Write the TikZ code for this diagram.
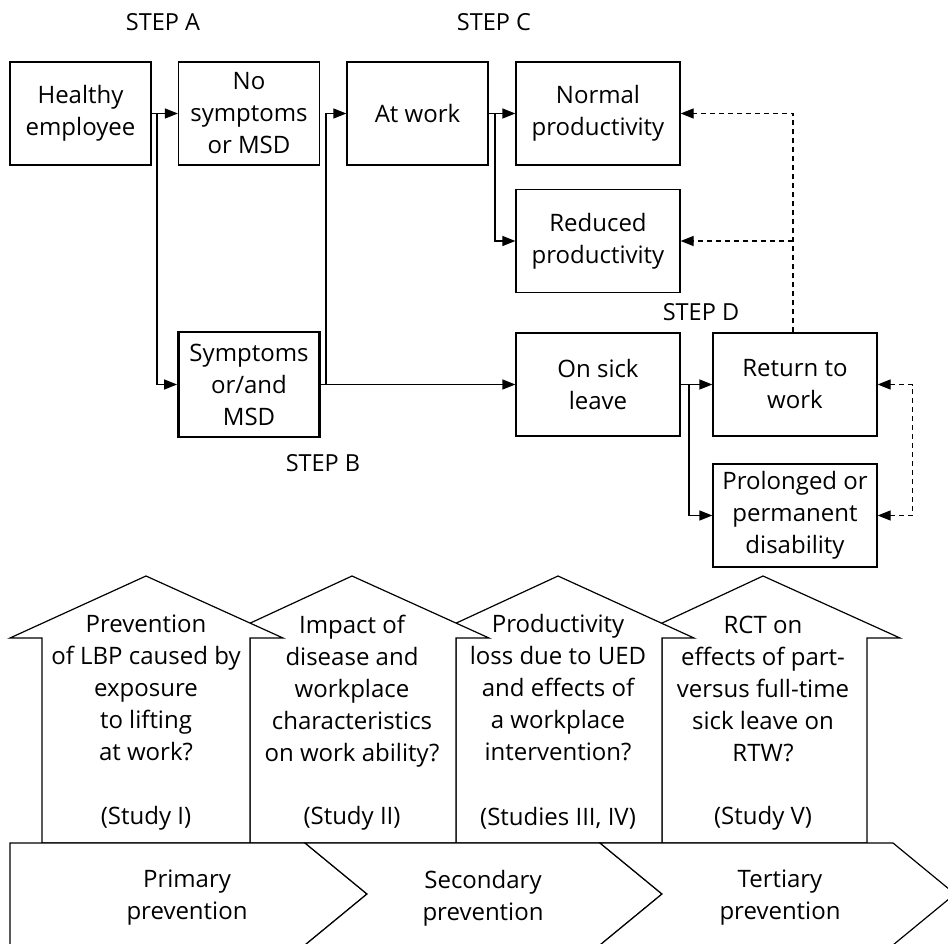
\documentclass[tikz,border=0pt]{standalone}
\usepackage{fontspec}
\setmainfont{Open Sans}
\usetikzlibrary{arrows.meta,calc}
\newcommand\bfnt{\fontsize{24}{32}\selectfont}
\newcommand\sfnt{\fontsize{23.5}{28}\selectfont}
\begin{document}
\begin{tikzpicture}[x=1pt,y=-1pt,
  every node/.style={inner sep=0pt},
  box/.style={draw, line width=1.2pt, minimum width=141pt, minimum height=103pt, align=center, font=\bfnt},
  wide/.style={box, minimum width=164pt},
  thickbox/.style={box, line width=2.8pt},
  conn/.style={line width=1.2pt, -{Triangle[length=13pt,width=10pt]}},
  dconn/.style={conn, dash pattern=on 5pt off 4pt},
  steplabel/.style={font=\sfnt},
  shapeline/.style={draw, line width=1.2pt, fill=white, line join=miter},
  txt/.style={align=center, font=\bfnt}
]
\fill[white] (0,0) rectangle (948,944);
\clip (0,0) rectangle (948,944);

% step labels
\node[steplabel] (stepA) at (163,22) {STEP A};
\node[steplabel] (stepC) at (494,22) {STEP C};
\node[steplabel] (stepD) at (701,312.5) {STEP D};
\node[steplabel] (stepB) at (323,463) {STEP B};

% boxes
\node[box] (healthy) at (80.5,113.5) {Healthy\\employee};
\node[box] (nosym) at (249,113.5) {No\\symptoms\\or MSD};
\node[box] (atwork) at (417.5,113.5) {At work};
\node[wide] (normal) at (598,113.5) {Normal\\productivity};
\node[wide] (reduced) at (598,241) {Reduced\\productivity};
\node[thickbox, minimum height=105pt] (symptoms) at (249,384.5) {Symptoms\\or/and\\MSD};
\node[wide] (sick) at (598,384.5) {On sick\\leave};
\node[wide] (rtw) at (795,384.5) {Return to\\work};
\node[wide] (prolonged) at (795,515.5) {Prolonged or\\permanent\\disability};

% connectors
\coordinate (b1) at (157,113.5);
\coordinate (b2) at (326,384.5);
\coordinate (b3) at (495,113.5);
\coordinate (b4) at (689,384.5);
\draw[conn] (healthy.east) -- (nosym.west);
\draw[conn] (b1) |- (symptoms.west);
\draw[conn] (symptoms.east) -- (sick.west);
\draw[conn] (b2) |- (atwork.west);
\draw[conn] (atwork.east) -- (normal.west);
\draw[conn] (b3) |- (reduced.west);
\draw[conn] (sick.east) -- (rtw.west);
\draw[conn] (b4) |- (prolonged.west);
\coordinate (up) at ([xshift=-2pt]rtw.north);
\draw[dconn] (up) |- (normal.east);
\draw[dconn] (up |- reduced.east) -- (reduced.east);
\draw[dconn, {Triangle[length=13pt,width=10pt]}-{Triangle[length=13pt,width=10pt]}] (rtw.east) -- ++(35,0) |- (prolonged.east);

% houses (back to front)
\path[shapeline] (867,843) -- (867,638) -- (900,638) -- (763,576) -- (630,638) -- (662,638) -- (662,843) -- cycle;
\path[shapeline] (662,843) -- (662,638) -- (694,638) -- (558,576) -- (424,638) -- (456,638) -- (456,843) -- cycle;
\path[shapeline] (456,843) -- (456,638) -- (489,638) -- (352,576) -- (218,638) -- (250,638) -- (250,843) -- cycle;
\path[shapeline] (250,843) -- (250,638) -- (283,638) -- (146,576) -- (10,638) -- (42,638) -- (42,843) -- cycle;

\node[txt] (q1) at (146,688) {Prevention\\of LBP caused by\\exposure\\to lifting\\at work?};
\node[txt] (q2) at (352,691) {Impact of\\disease and\\workplace\\characteristics\\on work ability?};
\node[txt] (q3) at (558,688) {Productivity\\loss due to UED\\and effects of\\a workplace\\intervention?};
\node[txt] (q4) at (763,688.5) {RCT on\\effects of part-\\versus full-time\\sick leave on\\RTW?};
\node[txt] (s1) at (146,818) {(Study I)};
\node[txt] (s2) at (352,818) {(Study II)};
\node[txt] (s3) at (558,818) {(Studies III, IV)};
\node[txt] (s4) at (763,818) {(Study V)};

% chevrons
\path[shapeline] (10,843) -- (305,843) -- (367,894) -- (305,945) -- (10,945) -- cycle;
\path[shapeline] (305,843) -- (600,843) -- (662,894) -- (600,945) -- (305,945) -- (367,894) -- cycle;
\path[shapeline] (600,843) -- (893,843) -- (955,894) -- (893,945) -- (600,945) -- (662,894) -- cycle;
\node[txt] (p1) at (187,898) {Primary\\prevention};
\node[txt] (p2) at (483,898) {Secondary\\prevention};
\node[txt] (p3) at (780,898) {Tertiary\\prevention};
\end{tikzpicture}
\end{document}
